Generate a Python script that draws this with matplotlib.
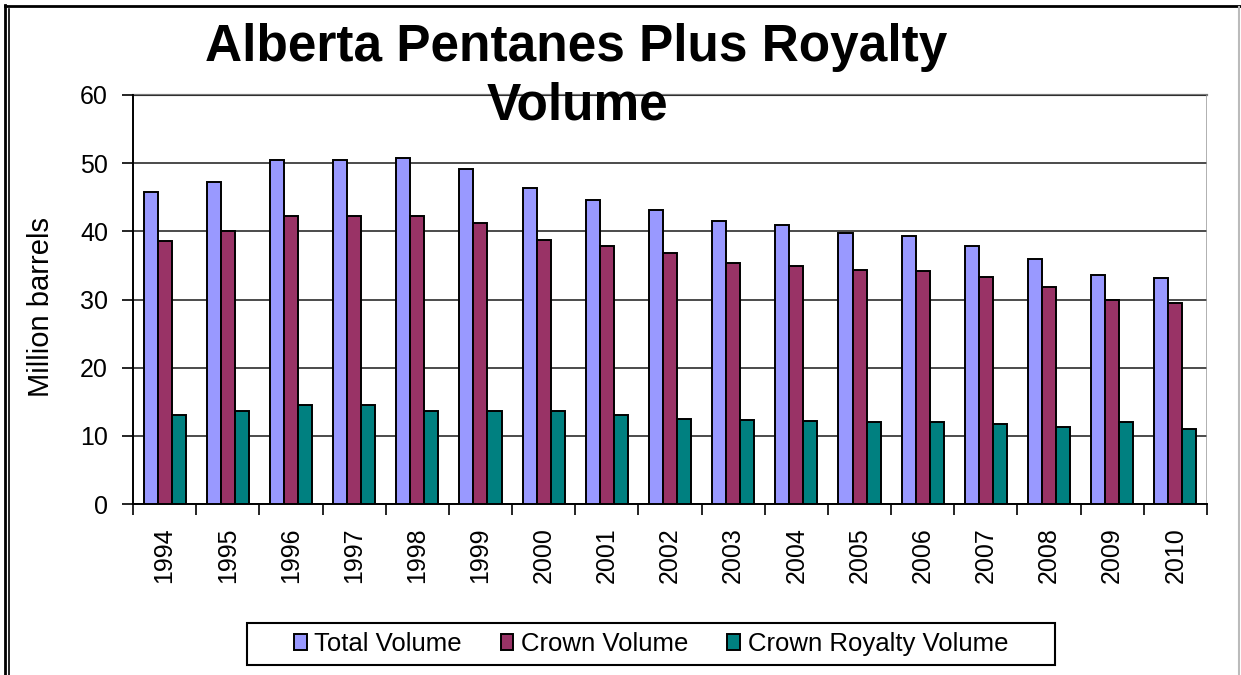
#!/usr/bin/env python3
# -*- coding: utf-8 -*-

import numpy as np
import matplotlib
matplotlib.use('Agg')
import matplotlib.pyplot as plt
from matplotlib.lines import Line2D
from matplotlib.patches import Rectangle

years = [str(y) for y in range(1994, 2011)]
total_volume = [45.7, 47.3, 50.5, 50.5, 50.8, 49.1, 46.3, 44.6, 43.1, 41.5,
                40.9, 39.8, 39.3, 37.8, 35.9, 33.6, 33.1]
crown_volume = [38.6, 40.0, 42.2, 42.2, 42.3, 41.2, 38.7, 37.8, 36.8, 35.3,
                34.9, 34.4, 34.2, 33.3, 31.9, 29.9, 29.5]
royalty_volume = [13.0, 13.6, 14.5, 14.5, 13.6, 13.6, 13.6, 13.0, 12.5, 12.3,
                  12.2, 12.0, 12.0, 11.7, 11.3, 12.0, 11.0]

series = [
    ("Total Volume", total_volume, "#9999ff"),
    ("Crown Volume", crown_volume, "#993366"),
    ("Crown Royalty Volume", royalty_volume, "#008080"),
]

plt.rcParams['font.family'] = ['Liberation Sans', 'DejaVu Sans']

W, H = 1241, 675
fig = plt.figure(figsize=(W / 100, H / 100), dpi=100)
ax = fig.add_axes([133 / W, 1 - 504 / H, (1207 - 133) / W, (504 - 95) / H])

x = np.arange(len(years))
width = 0.222
for i, (name, vals, col) in enumerate(series):
    ax.bar(x + (i - 1) * width, vals, width, color=col, edgecolor='black',
           linewidth=1.4, label=name, zorder=3)

ax.set_xlim(-0.5, len(years) - 0.5)
ax.set_ylim(0, 60)
ax.set_yticks(range(0, 61, 10))
ax.yaxis.grid(True, color='#1a1a1a', linewidth=1.1, zorder=0)
ax.axhline(60, color='#777777', linewidth=1.6, zorder=1, clip_on=False)

ax.set_xticks(x)
ax.set_xticklabels(years, rotation=90, fontsize=18)
ax.tick_params(axis='x', length=0, pad=17)
ax.set_xticks(np.arange(-0.5, len(years)), minor=True)
ax.tick_params(axis='x', which='minor', length=8, direction='out', width=1.2)
ax.tick_params(axis='y', labelsize=18, length=8, direction='out', width=1.2,
               pad=10)

for s in ['top', 'right']:
    ax.spines[s].set_visible(False)
ax.spines['left'].set_linewidth(1.4)
ax.spines['bottom'].set_linewidth(1.4)
ax.axvline(len(years) - 0.5, color='#999999', linewidth=1.8)

fig.text(41 / W, 1 - 307 / H, "Million barrels", rotation=90,
         ha='center', va='center', fontsize=21)

fig.text(576 / W, 1 - 47 / H, "Alberta Pentanes Plus Royalty",
         ha='center', va='center', fontsize=37, fontweight='bold')
fig.text(577 / W, 1 - 106 / H, "Volume",
         ha='center', va='center', fontsize=37, fontweight='bold')

leg = fig.legend(loc='center', bbox_to_anchor=(651 / W, 1 - 644 / H), ncol=3,
                 fontsize=18.5, frameon=False,
                 handlelength=0.5, handleheight=0.6, handletextpad=0.3,
                 columnspacing=1.5)
for h in leg.legend_handles:
    h.set_linewidth(1.4)
fig.add_artist(Rectangle((247 / W, 1 - 665 / H), (1055 - 247) / W, 42 / H,
                         transform=fig.transFigure, fill=False,
                         edgecolor='black', linewidth=1.5))

# outer frame of the original figure
fig.add_artist(Line2D([5 / W, 5 / W], [0, 1 - 5 / H], color='black', linewidth=2))
fig.add_artist(Line2D([9 / W, 9 / W], [0, 1 - 9 / H], color='black', linewidth=1.2))
fig.add_artist(Line2D([5 / W, 1], [1 - 6 / H, 1 - 6 / H], color='black', linewidth=2))
fig.add_artist(Line2D([1239 / W, 1239 / W], [0, 1 - 7 / H], color='#bbbbbb', linewidth=1.5))

fig.savefig('out.png', dpi=100)
